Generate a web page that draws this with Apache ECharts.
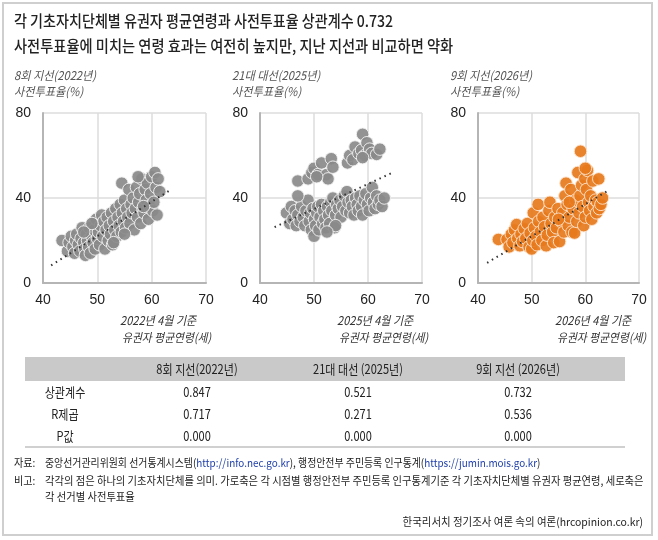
<!DOCTYPE html>
<html>
<head>
<meta charset="utf-8">
<script src="https://cdn.jsdelivr.net/npm/echarts@6/dist/echarts.min.js"></script>
<style>
  html, body { margin: 0; padding: 0; background: #fff; }
  #chart { width: 658px; height: 540px; }
</style>
</head>
<body>
<div id="chart"></div>
<script>
// 각 패널 점: [유권자 평균연령, 사전투표율]
var pts2022 = [[43.5,20],[44.5,15],[44.8,19],[45.2,22],[45.5,17],[45.8,14],[46,20],[46.2,23],[46.5,18],[46.8,15],[47,21],[47.2,26],[47.5,19],[47.7,16],[47.8,13],[48,23],[48.2,20],[48.4,17],[48.5,26],[48.7,14],[49,22],[49.2,19],[49.4,25],[49.6,16],[49.8,30],[50,21],[50.2,24],[50.4,18],[50.6,27],[50.8,32],[51,22],[51.2,29],[51.4,16],[51.6,25],[51.8,31],[52,20],[52.2,27],[52.4,23],[52.6,33],[52.8,18],[53,29],[53.2,25],[53.4,35],[53.6,22],[53.8,31],[54,27],[54.2,37],[54.4,24],[54.5,47],[54.6,33],[54.8,29],[55,39],[55.2,26],[55.4,35],[55.6,31],[55.8,44],[56,28],[56.2,37],[56.4,33],[56.6,40],[56.8,25],[57,35],[57.2,45],[57.4,31],[57.6,38],[57.8,42],[58,28],[58.2,49],[58.4,35],[58.6,33],[58.8,44],[59,39],[59.2,47],[59.4,30],[59.6,36],[59.8,42],[60,50],[60.2,34],[60.4,38],[60.6,52],[60.8,45],[61,32],[61.2,49],[61.5,43],[57.5,50],[58.5,36],[55,23],[53,19],[49,28],[47.5,24]];
var pts2025 = [[44.9,33],[45.5,28],[45.8,36],[46.1,30],[46.5,34],[46.7,27],[47,32],[47.4,29],[47.7,36],[48,31],[48.3,27],[48.5,34],[48.9,39],[49.1,29],[49.3,33],[49.5,25],[49.8,35],[50,22],[50.1,30],[50.3,27],[50.5,33],[50.7,36],[50.9,25],[51.1,31],[51.4,37],[51.6,28],[51.8,34],[52,30],[52.2,26],[52.5,36],[52.7,32],[52.9,28],[53.1,38],[53.3,34],[53.5,40],[53.8,26],[54,32],[54.2,37],[54.5,35],[54.8,39],[55,31],[55.3,36],[55.6,41],[55.9,34],[56.1,43],[56.3,38],[56.6,33],[56.9,39],[57.1,36],[57.4,32],[57.7,40],[58,37],[58.2,34],[58.5,41],[58.8,36],[59,32],[59.3,39],[59.6,42],[59.9,37],[60.2,34],[60.5,40],[60.8,45],[61,38],[61.3,35],[61.6,41],[61.9,37],[62.2,39],[62.6,36],[63,40],[54,27],[52.4,24],
  [47,48],[47,41],[48.9,49],[49.6,52],[50,54],[50.7,51],[51.4,56.5],[52.3,51],[52.6,49],[53.2,58.5],[53.5,54.5],[50.5,50],
  [56.2,56.5],[56.6,60],[57.2,58],[57.6,64],[58.3,61],[58.8,62.5],[59,70],[59.4,60],[59.8,66],[60.3,63],[60.7,61],[61.6,60.5],[62.2,63],[59,59]];
var pts2026 = [[43.8,20.5],[45.4,20.5],[45.8,17],[46.2,23],[46.5,19],[46.8,25],[47.2,27.5],[47.4,21],[47.8,17.5],[48,23],[48.3,19.5],[48.6,25.5],[48.9,21],[49.2,28],[49.5,17],[49.7,23.5],[50,16],[50.2,20],[50.3,33],[50.5,26],[50.8,22],[51,18],[51.2,37],[51.3,29],[51.6,24],[51.9,20],[52.1,31],[52.4,26.5],[52.7,17.5],[52.9,22.5],[53.2,34],[53.4,38],[53.6,28],[53.9,24],[54.1,19],[54.3,31],[54.6,26],[54.9,35],[55.2,19.5],[55.5,29],[55.8,33],[56,24],[56.2,41],[56.4,47],[56.6,37],[56.8,27],[57,31],[57.3,44],[57.5,24],[57.7,35],[58,23.5],[58.2,39],[58.4,29],[58.6,52],[58.8,33],[59,41],[59.1,62],[59.3,46],[59.5,36],[59.7,27],[59.9,49],[60,31],[60.2,44],[60.4,53],[60.6,38],[60.8,34],[61,41],[61.2,30],[61.4,48],[61.6,36],[61.9,39],[62.1,33],[62.3,38],[62.6,35],[62.9,37],[63.2,40],[62.5,49],[60,54],[57,38],[55,30]];

// 추세선 양 끝점
var trend2022 = [[41.5,8.3],[63.2,43.4]];
var trend2025 = [[42.7,26.3],[64.6,52]];
var trend2026 = [[41.7,9.5],[64.5,43.9]];

var xTicks = [40, 50, 60, 70];
var yTicks = [0, 40, 80];

var panelNames = ['8회 지선(2022년)', '21대 대선(2025년)', '9회 지선(2026년)'];
var axisDates = ['2022년 4월 기준', '2025년 4월 기준', '2026년 4월 기준'];

// 표
var tableHead = ['8회 지선(2022년)', '21대 대선 (2025년)', '9회 지선 (2026년)'];
var rowNames = ['상관계수', 'R제곱', 'P값'];
var corr = ['0.847', '0.521', '0.732'];
var rsq = ['0.717', '0.271', '0.536'];
var pval = ['0.000', '0.000', '0.000'];

var KR = "'Noto Sans CJK KR', sans-serif";
var NUM = "'Liberation Sans', 'Noto Sans CJK KR', sans-serif";

function txt(x, y, text, size, o) {
    o = o || {};
    return {
        type: 'text', x: x, y: y, scaleX: o.sx || 1, z: 10,
        style: {
            text: text, fontSize: size, fontFamily: o.ff || KR,
            fontStyle: o.italic ? 'italic' : 'normal',
            fontWeight: o.weight || 'normal',
            fill: o.color || '#222',
            textAlign: o.align || 'left', textVerticalAlign: 'middle',
            rich: o.rich
        }
    };
}

var grids = [
    {left: 43, top: 113, width: 163, height: 170},
    {left: 260, top: 113, width: 162, height: 170},
    {left: 478, top: 113, width: 161, height: 170}
];
var panelX = [14, 232, 450];
var nameX = [120, 337, 555];

var xAxes = [], yAxes = [], series = [];
var pts = [pts2022, pts2025, pts2026];
var trends = [trend2022, trend2025, trend2026];
var colors = [['#8a8a8a', '#f2f2f2'], ['#8a8a8a', '#f2f2f2'], ['#e7791c', '#fde3cc']];

grids.forEach(function (g, i) {
    xAxes.push({
        type: 'value', gridIndex: i, min: xTicks[0], max: xTicks[3], interval: 10,
        axisLine: {show: true, lineStyle: {color: '#b5b5b5', width: 2}},
        axisTick: {show: false},
        axisLabel: {color: '#222', fontSize: 14, fontFamily: NUM, margin: 10},
        splitLine: {show: true, lineStyle: {color: '#dcdcdc', width: 1.5}}
    });
    yAxes.push({
        type: 'value', gridIndex: i, min: yTicks[0], max: yTicks[2], interval: 40,
        axisLine: {show: true, lineStyle: {color: '#b5b5b5', width: 2}},
        axisTick: {show: false},
        axisLabel: {color: '#222', fontSize: 14, fontFamily: NUM, margin: 12},
        splitLine: {show: true, lineStyle: {color: '#dcdcdc', width: 1.5}}
    });
    series.push({
        type: 'scatter', xAxisIndex: i, yAxisIndex: i, data: pts[i],
        symbolSize: 12.5,
        itemStyle: {color: colors[i][0], borderColor: colors[i][1], borderWidth: 1, opacity: 0.92}
    });
    series.push({
        type: 'line', xAxisIndex: i, yAxisIndex: i, data: trends[i],
        symbol: 'none', z: 5,
        lineStyle: {color: '#333', width: 2, type: [1.5, 4]}
    });
});

var graphic = [
    {type: 'rect', shape: {x: 3, y: 3, width: 649, height: 532}, style: {fill: 'none', stroke: '#cfcfcf', lineWidth: 2}},
    txt(14, 21, '각 기초자치단체별 유권자 평균연령과 사전투표율 상관계수 0.732', 16, {sx: 0.88, weight: 500}),
    txt(14, 46, '사전투표율에 미치는 연령 효과는 여전히 높지만, 지난 지선과 비교하면 약화', 16, {sx: 0.89, weight: 500})
];
for (var i = 0; i < 3; i++) {
    graphic.push(txt(panelX[i], 75, panelNames[i], 12, {italic: true, color: '#555', sx: 0.93}));
    graphic.push(txt(panelX[i], 91, '사전투표율(%)', 12, {italic: true, color: '#555', sx: 0.93}));
    graphic.push(txt(nameX[i], 320, axisDates[i], 12, {italic: true, color: '#333', sx: 0.92}));
    graphic.push(txt(nameX[i] + 2, 337, '유권자 평균연령(세)', 12, {italic: true, color: '#333', sx: 0.9}));
}

// 표 그리기
var colX = [197, 358, 518];
var rowY = [392, 414, 436];
var rows = [corr, rsq, pval];
graphic.push({type: 'rect', shape: {x: 25, y: 357, width: 600, height: 24}, style: {fill: '#c9c9c9'}});
graphic.push({type: 'line', shape: {x1: 25, y1: 447, x2: 625, y2: 447}, style: {stroke: '#d0d0d0', lineWidth: 2}});
tableHead.forEach(function (h, j) {
    graphic.push(txt(colX[j], 369, h, 13, {align: 'center', sx: 0.85}));
});
rowNames.forEach(function (r, k) {
    graphic.push(txt(65, rowY[k], r, 13, {align: 'center', sx: 0.85}));
    rows[k].forEach(function (v, j) {
        graphic.push(txt(colX[j], rowY[k], v, 13, {align: 'center', sx: 0.85}));
    });
});

// 자료 / 비고
graphic.push(txt(14, 463, '자료:', 11, {sx: 0.92}));
graphic.push(txt(45, 463, '중앙선거관리위원회 선거통계시스템({l|http://info.nec.go.kr}), 행정안전부 주민등록 인구통계({l|https://jumin.mois.go.kr})', 11,
    {sx: 0.9, rich: {l: {fill: '#1f3fa8', fontSize: 11, fontFamily: KR}}}));
graphic.push(txt(14, 481, '비고:', 11, {sx: 0.92}));
graphic.push(txt(45, 481, '각각의 점은 하나의 기초자치단체를 의미. 가로축은 각 시점별 행정안전부 주민등록 인구통계기준 각 기초자치단체별 유권자 평균연령, 세로축은', 11, {sx: 0.935}));
graphic.push(txt(45, 497, '각 선거별 사전투표율', 11, {sx: 0.935}));
graphic.push(txt(643, 522, '한국리서치 정기조사 여론 속의 여론(hrcopinion.co.kr)', 11, {sx: 0.95, align: 'right'}));

var chart = echarts.init(document.getElementById('chart'));
chart.setOption({
    animation: false,
    grid: grids,
    xAxis: xAxes,
    yAxis: yAxes,
    series: series,
    graphic: graphic
});
</script>
</body>
</html>
